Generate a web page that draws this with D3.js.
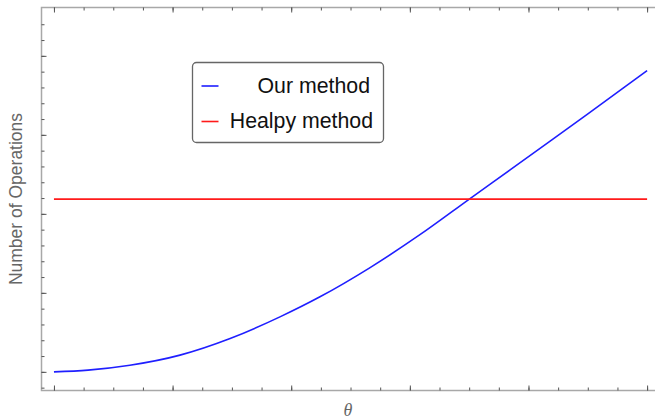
<!DOCTYPE html>
<html lang="en">
  <head>
    <meta charset="UTF-8" />
    <title>Number of Operations vs theta</title>
    <script src="https://d3js.org/d3.v7.min.js"></script>
    <style>
      body {
        margin: 0;
        padding: 0;
        background: #fff;
      }
      svg {
        display: block;
      }
      .tick line {
        stroke: #555;
        stroke-width: 1;
      }
      .axis .domain {
        display: none;
      }
      .legend text {
        font-family: "Liberation Sans", Arial, sans-serif;
        font-size: 21.3px;
        fill: #111;
      }
    </style>
  </head>
  <body>
    <script>
      // Data (arbitrary units, the chart shows no tick labels)
      const ourTheta = [0, 1.15, 2.56, 4.25, 5.94, 7.62, 8.97, 10.66, 12.34, 14.03,
                        15.38, 16.73, 17.98, 19.26, 20];
      const ourMethod = [0, 0.11, 0.42, 1.06, 2.11, 3.48, 4.75, 6.6, 8.68, 10.97,
                         12.78, 14.6, 16.3, 18.05, 19.07];
      const healpyTheta = [0, 20];
      const healpyMethod = [10.93, 10.93];
      const seriesNames = ["Our method", "Healpy method"];
      const seriesColors = ["#1f1fff", "#ff1a1a"];
      const xMinorTicks = d3.range(0, 21, 1);
      const xMajorTicks = [0, 4, 8, 12, 16, 20];
      const yMinorTicks = d3.range(-1, 23, 1);
      const yMajorTicks = [0, 5, 10, 15, 20];

      const width = 655,
            height = 419;
      const frame = { left: 41.5, right: 656, top: 7.5, bottom: 390.5 };

      const svg = d3.select("body")
                    .append("svg")
                    .attr("width", width)
                    .attr("height", height);

      const x = d3.scaleLinear()
                  .domain([-0.42, 20.3])
                  .range([frame.left, frame.right]);
      const y = d3.scaleLinear()
                  .domain([-1.18, 23.06])
                  .range([frame.bottom, frame.top]);

      // Frame
      svg.append("rect")
         .attr("x", frame.left)
         .attr("y", frame.top)
         .attr("width", frame.right - frame.left)
         .attr("height", frame.bottom - frame.top)
         .attr("fill", "none")
         .attr("stroke", "#a8a8a8")
         .attr("stroke-width", 1.5);

      // Inward ticks on all four sides (no labels)
      function addTicks(axisFn, scale, ticks, size, transform) {
        svg.append("g")
           .attr("class", "axis")
           .attr("transform", transform)
           .call(axisFn(scale).tickValues(ticks).tickSize(size).tickFormat(""));
      }
      addTicks(d3.axisBottom, x, xMinorTicks, -3, `translate(0,${frame.bottom})`);
      addTicks(d3.axisBottom, x, xMajorTicks, -5, `translate(0,${frame.bottom})`);
      addTicks(d3.axisTop, x, xMinorTicks, -3, `translate(0,${frame.top})`);
      addTicks(d3.axisTop, x, xMajorTicks, -5, `translate(0,${frame.top})`);
      addTicks(d3.axisLeft, y, yMinorTicks, -3, `translate(${frame.left},0)`);
      addTicks(d3.axisLeft, y, yMajorTicks, -5, `translate(${frame.left},0)`);

      // Lines
      const series = [
        { xs: ourTheta, ys: ourMethod },
        { xs: healpyTheta, ys: healpyMethod }
      ];
      series.forEach((s, i) => {
        const line = d3.line()
                       .x((d, j) => x(s.xs[j]))
                       .y(d => y(d))
                       .curve(d3.curveMonotoneX);
        svg.append("path")
           .datum(s.ys)
           .attr("fill", "none")
           .attr("stroke", seriesColors[i])
           .attr("stroke-width", 1.6)
           .attr("d", line);
      });

      // Axis labels
      svg.append("text")
         .attr("transform", `translate(22,${(frame.top + frame.bottom) / 2}) rotate(-90)`)
         .attr("text-anchor", "middle")
         .attr("font-family", "'Liberation Sans', Arial, sans-serif")
         .attr("font-size", 17.5)
         .attr("fill", "#666")
         .text("Number of Operations");

      svg.append("text")
         .attr("x", 348)
         .attr("y", 416)
         .attr("text-anchor", "middle")
         .attr("font-family", "'Liberation Serif', 'Times New Roman', serif")
         .attr("font-style", "italic")
         .attr("font-size", 18)
         .attr("fill", "#666")
         .text("θ");

      // Legend
      const legend = svg.append("g").attr("class", "legend");
      legend.append("rect")
            .attr("x", 192.5)
            .attr("y", 62.5)
            .attr("width", 191)
            .attr("height", 80)
            .attr("rx", 4)
            .attr("fill", "#fff")
            .attr("stroke", "#666")
            .attr("stroke-width", 1.3);

      const legendRows = [86, 121.5];
      const legendTextEnd = [370, 373];
      seriesNames.forEach((name, i) => {
        legend.append("line")
              .attr("x1", 201.5)
              .attr("x2", 218.5)
              .attr("y1", legendRows[i])
              .attr("y2", legendRows[i])
              .attr("stroke", seriesColors[i])
              .attr("stroke-width", 1.6);
        legend.append("text")
              .attr("x", legendTextEnd[i])
              .attr("y", legendRows[i] + 6.5)
              .attr("text-anchor", "end")
              .text(name);
      });
    </script>
  </body>
</html>
